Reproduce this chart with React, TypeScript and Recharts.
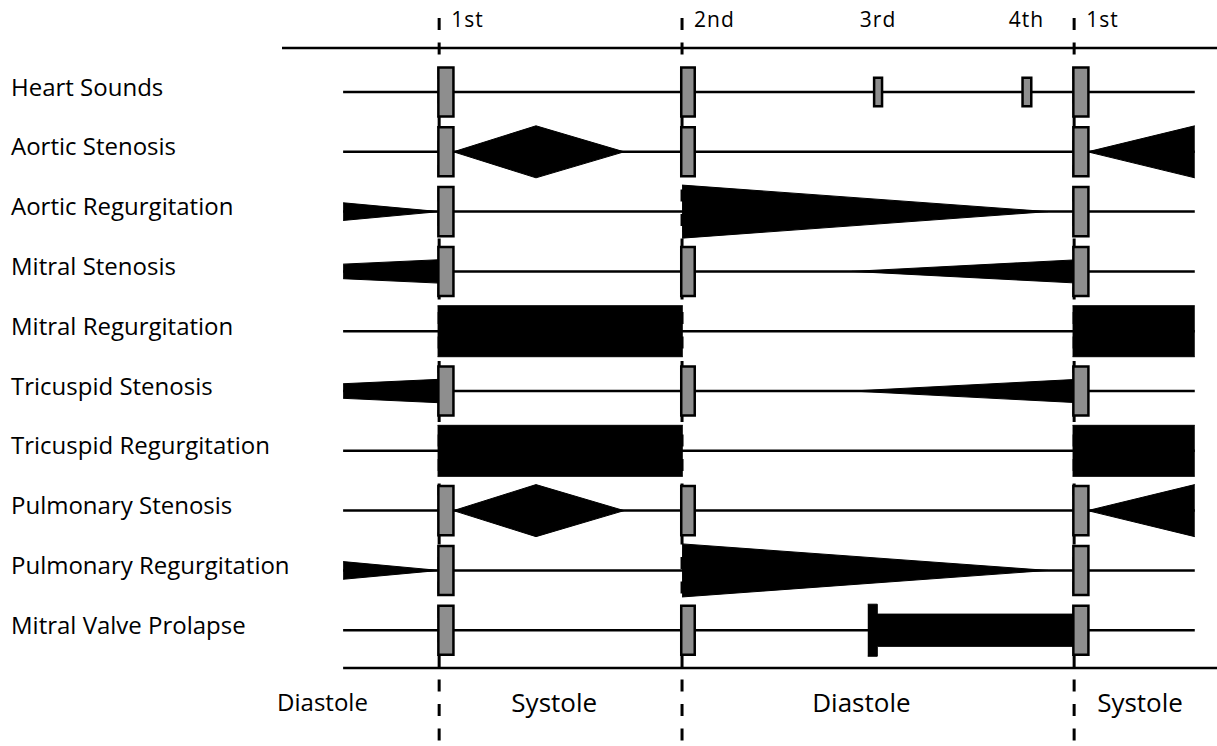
import React from "react";
import {
  Area,
  ComposedChart,
  ReferenceArea,
  ReferenceDot,
  ReferenceLine,
  XAxis,
  YAxis,
} from "recharts";

const FONT = "'Open Sans', sans-serif";

// rows, top to bottom
const rowLabels = [
  "Heart Sounds",
  "Aortic Stenosis",
  "Aortic Regurgitation",
  "Mitral Stenosis",
  "Mitral Regurgitation",
  "Tricuspid Stenosis",
  "Tricuspid Regurgitation",
  "Pulmonary Stenosis",
  "Pulmonary Regurgitation",
  "Mitral Valve Prolapse",
];

// time in ms, 0 = first heart sound
const cycleMarkers = [0, 306, 800]; // S1, S2, next S1
const soundNames = ["1st", "2nd", "3rd", "4th", "1st"];
const soundTimes = [0, 306, 553, 740, 800];
const soundStart = [-1, 305, 548, 735, 799];
const soundEnd = [18, 322, 558, 746, 818];
const soundLoudness = [1, 1, 0.58, 0.58, 1];

// which sounds are drawn on each row (index into soundNames)
const rowSounds = [
  [0, 1, 2, 3, 4],
  [0, 1, 4],
  [0, 4],
  [0, 1, 4],
  [],
  [0, 1, 4],
  [],
  [0, 1, 4],
  [0, 4],
  [0, 1, 4],
];

type Pt = { t: number; a: number };

// murmur envelopes, a = relative loudness
const heartSounds: Pt[][] = [];
const aorticStenosis: Pt[][] = [
  [{ t: 18, a: 0 }, { t: 122, a: 1 }, { t: 233, a: 0 }],
  [{ t: 817, a: 0 }, { t: 952, a: 1 }],
];
const aorticRegurgitation: Pt[][] = [
  [{ t: -121, a: 0.34 }, { t: 0, a: 0 }],
  [{ t: 306, a: 1.02 }, { t: 767, a: 0 }],
];
const mitralStenosis: Pt[][] = [
  [{ t: -121, a: 0.28 }, { t: 0, a: 0.45 }],
  [{ t: 520, a: 0 }, { t: 799, a: 0.44 }],
];
const mitralRegurgitation: Pt[][] = [
  [{ t: -2, a: 0.98 }, { t: 307, a: 0.98 }],
  [{ t: 798, a: 0.98 }, { t: 952, a: 0.98 }],
];
const tricuspidStenosis: Pt[][] = [
  [{ t: -121, a: 0.28 }, { t: 0, a: 0.45 }],
  [{ t: 520, a: 0 }, { t: 799, a: 0.44 }],
];
const tricuspidRegurgitation: Pt[][] = [
  [{ t: -2, a: 0.98 }, { t: 307, a: 0.98 }],
  [{ t: 798, a: 0.98 }, { t: 952, a: 0.98 }],
];
const pulmonaryStenosis: Pt[][] = [
  [{ t: 18, a: 0 }, { t: 122, a: 1 }, { t: 233, a: 0 }],
  [{ t: 817, a: 0 }, { t: 952, a: 1 }],
];
const pulmonaryRegurgitation: Pt[][] = [
  [{ t: -121, a: 0.34 }, { t: 0, a: 0 }],
  [{ t: 306, a: 1.02 }, { t: 767, a: 0 }],
];
const mitralValveProlapse: Pt[][] = [
  [{ t: 540, a: 1 }, { t: 552, a: 1 }, { t: 552, a: 0.62 }, { t: 799, a: 0.62 }],
];

const phaseNames = ["Diastole", "Systole", "Diastole", "Systole"];
const phaseMid = [-147, 145, 532, 883];

// layout
const TIME_DOMAIN = [-198, 980];
const TRACE = [-121, 952];
const ROW_DOMAIN = [-0.736, 10.936];
const AMP = 0.435;
const BOX_H = 0.41;
const DASH_TOP = -1.237;
const BOTTOM_RULE = 9.632;
const PHASE_Y = 10.21;

const murmurRows = [
  heartSounds,
  aorticStenosis,
  aorticRegurgitation,
  mitralStenosis,
  mitralRegurgitation,
  tricuspidStenosis,
  tricuspidRegurgitation,
  pulmonaryStenosis,
  pulmonaryRegurgitation,
  mitralValveProlapse,
];

const seriesKeys: string[] = [];
const table: any[] = [];
murmurRows.forEach((segments, row) => {
  segments.forEach((seg, k) => {
    const key = `m${row}_${k}`;
    seriesKeys.push(key);
    seg.forEach((p) => {
      table.push({ t: p.t, [key]: [row - p.a * AMP, row + p.a * AMP] });
    });
  });
});
table.sort((a, b) => a.t - b.t);

function RowTick(props: any) {
  const { y, payload } = props;
  return (
    <text x={11} y={y + 3.5} fontSize={24} fontFamily={FONT} fill="#000">
      {rowLabels[payload.value]}
    </text>
  );
}

function SoundTick(props: any) {
  const { x, payload } = props;
  const i = soundTimes.indexOf(payload.value);
  const extra = soundLoudness[i] < 1;
  return (
    <text
      x={extra ? x : x + 12}
      y={27}
      textAnchor={extra ? "middle" : "start"}
      fontSize={21}
      letterSpacing={1}
      fontFamily={FONT}
      fill="#000"
    >
      {soundNames[i]}
    </text>
  );
}

export default function App() {
  return (
    <div style={{ position: "absolute", left: 0, top: 0, background: "#fff" }}>
      <ComposedChart
        width={1217}
        height={746}
        data={table}
        margin={{ top: 0, right: 0, bottom: 0, left: 0 }}
      >
        <XAxis
          dataKey="t"
          type="number"
          orientation="top"
          domain={TIME_DOMAIN}
          allowDataOverflow
          height={48}
          ticks={soundTimes}
          interval={0}
          tick={(p: any) => <SoundTick {...p} />}
          tickLine={false}
          axisLine={{ stroke: "#000", strokeWidth: 2.5 }}
        />
        <YAxis
          type="number"
          domain={ROW_DOMAIN}
          reversed
          allowDataOverflow
          width={282}
          ticks={rowLabels.map((_, i) => i)}
          interval={0}
          tick={(p: any) => <RowTick {...p} />}
          tickLine={false}
          axisLine={false}
        />

        {cycleMarkers.map((t) => (
          <ReferenceLine
            key={`dash-${t}`}
            segment={[
              { x: t, y: DASH_TOP },
              { x: t, y: ROW_DOMAIN[1] },
            ]}
            ifOverflow="visible"
            stroke="#000"
            strokeWidth={3}
            strokeDasharray="12 12.5"
            zIndex={50}
          />
        ))}

        {rowLabels.map((_, i) => (
          <ReferenceLine
            key={`trace-${i}`}
            segment={[
              { x: TRACE[0], y: i },
              { x: TRACE[1], y: i },
            ]}
            stroke="#000"
            strokeWidth={2.5}
            zIndex={60}
          />
        ))}

        <ReferenceLine
          segment={[
            { x: TRACE[0], y: BOTTOM_RULE },
            { x: TIME_DOMAIN[1], y: BOTTOM_RULE },
          ]}
          stroke="#000"
          strokeWidth={2.5}
          zIndex={60}
        />

        {seriesKeys.map((key) => (
          <Area
            key={key}
            dataKey={key}
            type="linear"
            stroke="#000"
            strokeWidth={1}
            fill="#000"
            fillOpacity={1}
            connectNulls
            dot={false}
            activeDot={false}
            legendType="none"
            isAnimationActive={false}
            zIndex={100}
          />
        ))}

        {rowSounds.map((sounds, row) =>
          sounds.map((s) => (
            <ReferenceArea
              key={`snd-${row}-${s}`}
              x1={soundStart[s]}
              x2={soundEnd[s]}
              y1={row - BOX_H * soundLoudness[s]}
              y2={row + BOX_H * soundLoudness[s]}
              fill="#8e8e8e"
              fillOpacity={1}
              stroke="#000"
              strokeWidth={2.5}
              zIndex={200}
            />
          ))
        )}

        {phaseNames.map((name, i) => (
          <ReferenceDot
            key={`phase-${i}`}
            x={phaseMid[i]}
            y={PHASE_Y}
            r={0}
            fill="none"
            stroke="none"
            label={{
              value: name,
              position: "center",
              fill: "#000",
              fontSize: i === 0 ? 24 : 26,
              fontFamily: FONT,
            }}
          />
        ))}
      </ComposedChart>
    </div>
  );
}
